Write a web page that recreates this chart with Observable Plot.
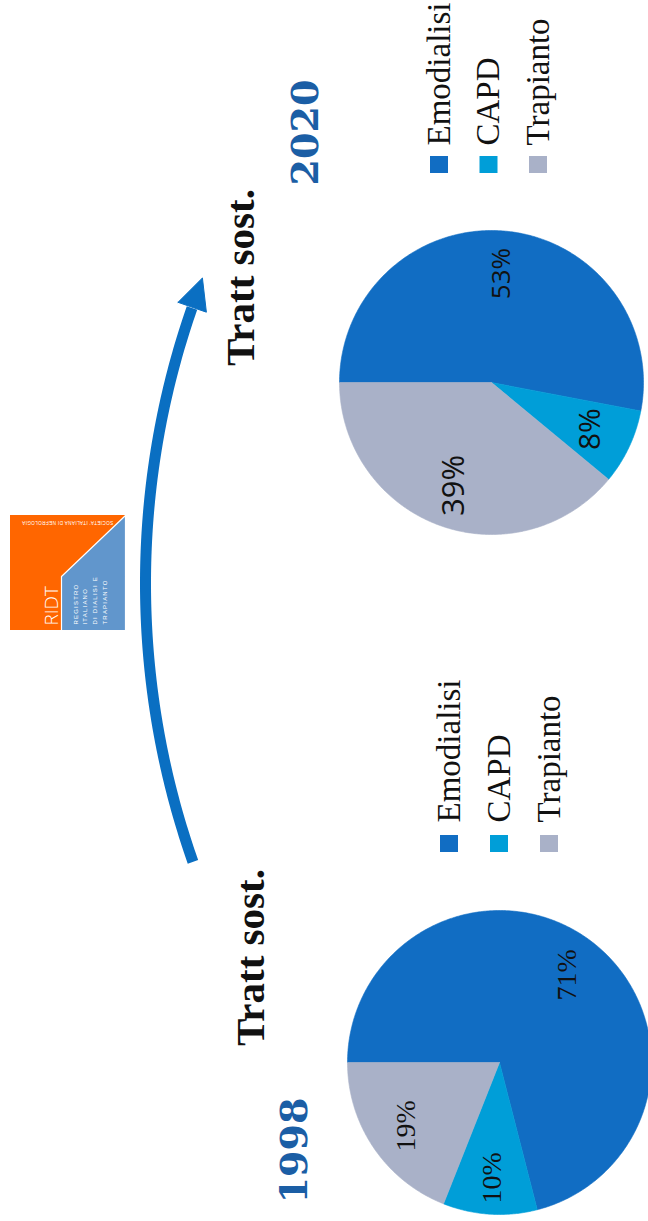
<!DOCTYPE html>
<html>
<head>
<meta charset="utf-8">
<script src="https://cdn.jsdelivr.net/npm/d3@7"></script>
<script src="https://cdn.jsdelivr.net/npm/@observablehq/plot@0.6"></script>
<style>
html, body { margin: 0; padding: 0; background: #fff; overflow: hidden; }
#chart svg { display: block; }
</style>
</head>
<body>
<div id="chart"></div>
<script>
// ---- data ----
const categories = ["Emodialisi", "CAPD", "Trapianto"];
const years = ["1998", "2020"];
const values1998 = [71, 10, 19];
const values2020 = [53, 8, 39];
const titleText = "Tratt sost.";
const logoText = "RIDT";
const registryLines = ["REGISTRO", "ITALIANO", "DI DIALISI E", "TRAPIANTO"];
const societyText = "SOCIETA' ITALIANA DI NEFROLOGIA";

// ---- styles / layout ----
const colors = ["#116dc3", "#009ed8", "#a9b1c8"];
const yearColor = "#1b5ea5";
const arrowColor = "#0a6fc2";
const W = 648, H = 1221;

const pies = [
  {year: years[0], values: values1998, cx: 499, cy: 1062, r: 152,
   labelFont: "'Liberation Serif', serif", labelSizes: [28, 28, 28], labelR: [0.73, 0.76, 0.74],
   legend: {sx: 449, sy: 843.5, tx: 459, ty: 822, step: 50},
   title: {x: 263, y: 957}, yearPos: {x: 306, y: 1150}},
  {year: years[1], values: values2020, cx: 491, cy: 382, r: 152,
   labelFont: "'Open Sans', sans-serif", labelSizes: [26, 30, 31], labelR: [0.72, 0.72, 0.72],
   legend: {sx: 439, sy: 164.5, tx: 449, ty: 145, step: 49.5},
   title: {x: 253, y: 277}, yearPos: {x: 317, y: 132}}
];

const marks = [];
const pieGen = d3.pie().sort(null).startAngle(-Math.PI / 2).endAngle(1.5 * Math.PI);

for (const p of pies) {
  const arcs = pieGen(p.values);
  arcs.forEach((a, i) => {
    const pts = [{x: p.cx, y: p.cy}];
    const n = Math.max(2, Math.ceil((a.endAngle - a.startAngle) / 0.01));
    for (let k = 0; k <= n; k++) {
      const t = a.startAngle + (a.endAngle - a.startAngle) * k / n;
      pts.push({x: p.cx + p.r * Math.sin(t), y: p.cy - p.r * Math.cos(t)});
    }
    pts.push({x: p.cx, y: p.cy});
    marks.push(Plot.line(pts, {x: "x", y: "y", fill: colors[i], stroke: colors[i], strokeWidth: 0.6}));
  });
  arcs.forEach((a, i) => {
    const m = (a.startAngle + a.endAngle) / 2;
    const lr = p.r * p.labelR[i];
    const lab = [{x: p.cx + lr * Math.sin(m), y: p.cy - lr * Math.cos(m), text: a.data + "%"}];
    marks.push(Plot.text(lab, {x: "x", y: "y", text: "text", rotate: -90, textAnchor: "middle", lineAnchor: "middle",
      fontFamily: p.labelFont, fontSize: p.labelSizes[i], fill: "#111"}));
  });

  // legend
  const leg = categories.map((c, i) => ({c, i,
    sx: p.legend.sx + i * p.legend.step, sy: p.legend.sy,
    tx: p.legend.tx + i * p.legend.step, ty: p.legend.ty}));
  marks.push(Plot.rect(leg, {x1: d => d.sx - 9, x2: d => d.sx + 9, y1: d => d.sy - 8.5, y2: d => d.sy + 8.5,
    fill: d => colors[d.i]}));
  marks.push(Plot.text(leg, {x: "tx", y: "ty", text: "c", rotate: -90, textAnchor: "start", lineAnchor: "bottom",
    fontFamily: "'Liberation Serif', serif", fontSize: 33, fill: "#111"}));

  // title and year
  marks.push(Plot.text([titleText], {x: () => p.title.x, y: () => p.title.y, text: d => d, rotate: -90,
    textAnchor: "middle", lineAnchor: "bottom", fontFamily: "'Liberation Serif', serif", fontWeight: "bold",
    fontSize: 41, fill: "#111"}));
  marks.push(Plot.text([p.year], {x: () => p.yearPos.x, y: () => p.yearPos.y, text: d => d, rotate: -90,
    textAnchor: "middle", lineAnchor: "bottom", fontFamily: "'DejaVu Serif', serif", fontWeight: "bold",
    fontSize: 38, fill: yearColor}));
}

// ---- curved arrow ----
const arrow = {cx: 985, cy: 583, R: 840, from: 160.65, to: 199.2, width: 11, headLength: 31, headWidth: 30};
const rad = Math.PI / 180;
const shaft = d3.range(arrow.from, arrow.to + 0.001, 0.25).map(t => ({
  x: arrow.cx + arrow.R * Math.cos(t * rad), y: arrow.cy + arrow.R * Math.sin(t * rad)}));
marks.push(Plot.line(shaft, {x: "x", y: "y", stroke: arrowColor, strokeWidth: arrow.width, strokeLinecap: "butt"}));
{
  const th = arrow.to * rad;
  const bx = arrow.cx + arrow.R * Math.cos(th), by = arrow.cy + arrow.R * Math.sin(th);
  const tx = -Math.sin(th), ty = Math.cos(th), nx = Math.cos(th), ny = Math.sin(th);
  const head = [
    {x: bx + nx * arrow.headWidth / 2, y: by + ny * arrow.headWidth / 2},
    {x: bx + tx * arrow.headLength, y: by + ty * arrow.headLength},
    {x: bx - nx * arrow.headWidth / 2, y: by - ny * arrow.headWidth / 2},
    {x: bx + nx * arrow.headWidth / 2, y: by + ny * arrow.headWidth / 2}
  ];
  marks.push(Plot.line(head, {x: "x", y: "y", fill: arrowColor, stroke: arrowColor, strokeWidth: 1, strokeLinejoin: "miter"}));
}

// ---- RIDT logo ----
const logo = {x0: 10, x1: 125, y0: 515, y1: 630, split: 61, corner: 576};
marks.push(Plot.rect([logo], {x1: d => d.x0, x2: d => d.x1, y1: d => d.y0, y2: d => d.y1, fill: "#ff6600"}));
const bluePart = [
  {x: logo.split, y: logo.y1}, {x: logo.split, y: logo.corner},
  {x: logo.x1, y: logo.y0}, {x: logo.x1, y: logo.y1}, {x: logo.split, y: logo.y1}
];
marks.push(Plot.line(bluePart, {x: "x", y: "y", fill: "#6196cc", stroke: "#ffffff", strokeWidth: 1.2}));
marks.push(Plot.text([logoText], {x: () => 57, y: () => 625, text: d => d, rotate: -90, textAnchor: "start",
  lineAnchor: "bottom", fontFamily: "'Open Sans', sans-serif", fontWeight: 300, fontSize: 19, fill: "#ffffff"}));
marks.push(Plot.text(registryLines.map((t, i) => ({t, x: 77 + i * 9.7})), {x: "x", y: () => 624, text: "t", rotate: -90,
  textAnchor: "start", lineAnchor: "bottom", fontFamily: "'Liberation Sans', sans-serif", fontSize: 6, fill: "#ffffff"}));
marks.push(Plot.text([societyText], {x: () => 67, y: () => 522, text: d => d, rotate: 180,
  textAnchor: "middle", lineAnchor: "middle", fontFamily: "'Liberation Sans', sans-serif", fontSize: 4.6, fill: "#ffffff"}));

const svg = Plot.plot({
  width: W, height: H,
  marginTop: 0, marginRight: 0, marginBottom: 0, marginLeft: 0,
  x: {domain: [0, W], range: [0, W], axis: null},
  y: {domain: [0, H], range: [0, H], axis: null},
  style: {background: "#ffffff"},
  marks
});
d3.select(svg).selectAll("text").filter(function () { return registryLines.includes(this.textContent); })
  .attr("letter-spacing", "1.2");
d3.select(svg).selectAll("text").filter(function () { return this.textContent === societyText; })
  .attr("letter-spacing", "0.4");
document.getElementById("chart").appendChild(svg);
</script>
</body>
</html>
